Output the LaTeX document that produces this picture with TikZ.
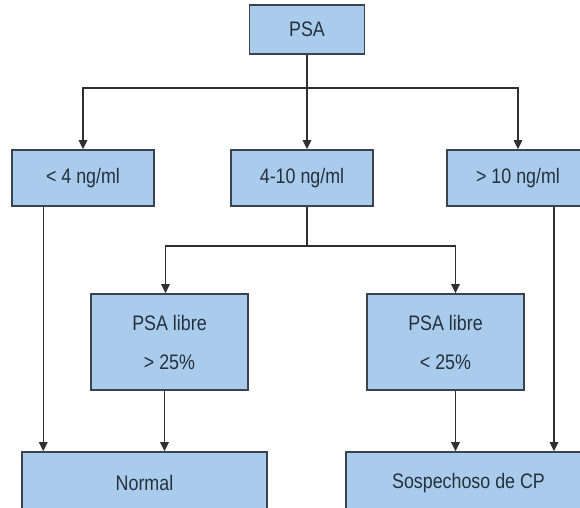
\documentclass[tikz,border=0pt]{standalone}
\usepackage{fontspec}
\setmainfont{Liberation Sans}[FakeStretch=0.85]
\usepackage{tikz}
\usetikzlibrary{arrows.meta}
\tikzset{>={Triangle[width=3mm,length=3.2mm]}}
\definecolor{boxfill}{HTML}{A9CCEC}
\definecolor{boxline}{HTML}{3A4450}
\definecolor{txt}{HTML}{26303C}
\definecolor{wire}{HTML}{303030}
\tikzset{
  box/.style={draw=boxline, fill=boxfill, line width=1.5pt, inner sep=0pt,
    text=txt, font=\fontsize{21}{24}\selectfont, align=center},
  wire/.style={draw=wire, line width=1.5pt}
}

\begin{document}
\begin{tikzpicture}[x=1pt, y=-1pt]
    \useasboundingbox (0,0) rectangle (580,507);
    \node[box, minimum width=115pt, minimum height=49pt] (PSA) at (307,29.5) {PSA};
    \node[box, minimum width=142pt, minimum height=56pt] (Low) at (83,178) {< 4 ng/ml};
    \node[box, minimum width=142pt, minimum height=56pt] (Mid) at (302,178) {4-10 ng/ml};
    \node[box, minimum width=142pt, minimum height=56pt] (High) at (518,178) {> 10 ng/ml};
    \node[box, minimum width=157pt, minimum height=96pt] (Free-hi) at (169.5,342) {PSA libre\\[15pt]> 25\%};
    \node[box, minimum width=157pt, minimum height=96pt] (Free-lo) at (445.5,342) {PSA libre\\[15pt]< 25\%};
    \node[box, minimum width=245pt, minimum height=62pt] (Normal) at (144.5,483) {Normal};
    \node[box, minimum width=245pt, minimum height=62pt] (Susp) at (468.5,483) {Sospechoso de CP};
    \coordinate (split-a) at (307,88);
    \coordinate (split-b) at (307,246);
    \draw[wire] (PSA) -- (split-a);
    \draw[wire, ->] (split-a) -| (Low);
    \draw[wire, ->] (split-a) -| (High);
    \draw[wire, ->] (split-a) -- (split-a |- Mid.north);
    \draw[wire] (split-a |- Mid.south) -- (split-b);
    \draw[wire, ->] (split-b) -| ([xshift=-4pt]Free-hi.north);
    \draw[wire, ->] (split-b) -| ([xshift=10pt]Free-lo.north);
    \draw[wire, ->] ([xshift=32pt]Low.south west) -- ([xshift=32pt]Low.south west |- Normal.north);
    \draw[wire, ->] ([xshift=-5pt]Free-hi.south) -- ([xshift=-5pt]Free-hi.south |- Normal.north);
    \draw[wire, ->] ([xshift=10pt]Free-lo.south) -- ([xshift=10pt]Free-lo.south |- Susp.north);
    \draw[wire, ->] ([xshift=36pt]High.south) -- ([xshift=36pt]High.south |- Susp.north);
  \end{tikzpicture}
\end{document}
